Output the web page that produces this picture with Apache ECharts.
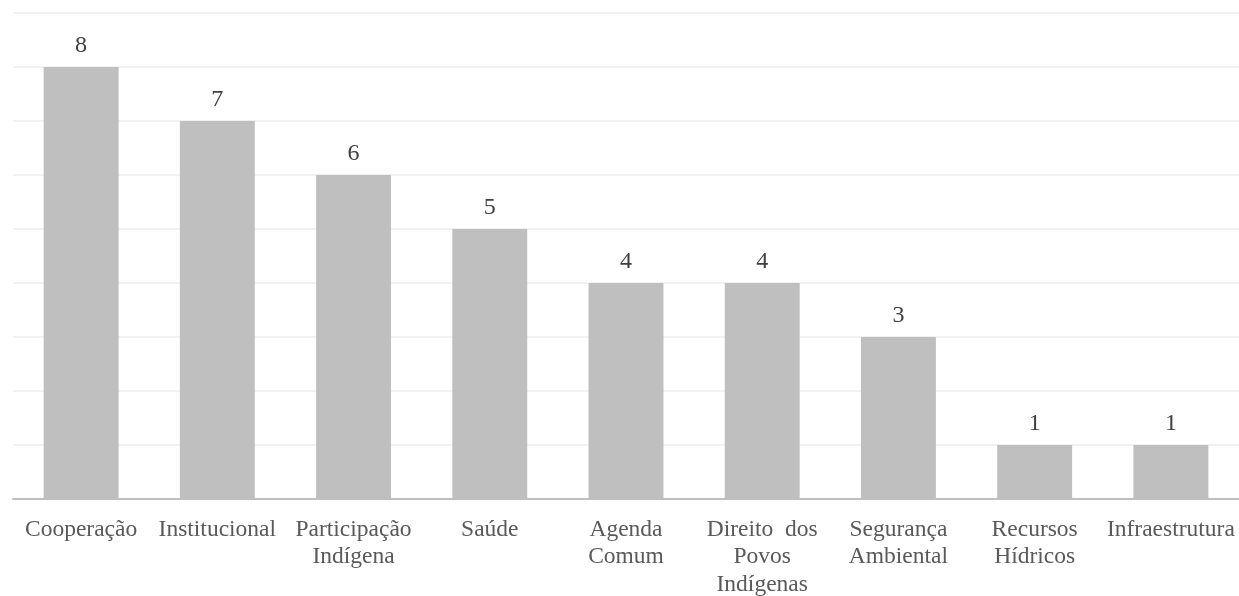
<!DOCTYPE html>
<html>
<head>
<meta charset="utf-8">
<script src="https://cdn.jsdelivr.net/npm/echarts@6/dist/echarts.min.js"></script>
<style>
html,body{margin:0;padding:0;background:#fff;}
#chart{width:1239px;height:596px;}
</style>
</head>
<body>
<div id="chart"></div>
<script>
var categories = ["Cooperação", "Institucional", "Participação\nIndígena", "Saúde", "Agenda\nComum", "Direito  dos\nPovos\nIndígenas", "Segurança\nAmbiental", "Recursos\nHídricos", "Infraestrutura"];
var values = [8, 7, 6, 5, 4, 4, 3, 1, 1];

var FONT = 'Liberation Serif';
var chart = echarts.init(document.getElementById('chart'), null, {renderer: 'canvas'});
chart.setOption({
  animation: false,
  backgroundColor: '#ffffff',
  textStyle: {fontFamily: FONT},
  grid: {left: 13, right: 0, top: 13, bottom: 97, containLabel: false, outerBoundsMode: 'none'},
  xAxis: {
    type: 'category',
    data: categories,
    axisLine: {show: true, lineStyle: {color: '#bfbfbf', width: 2}},
    axisTick: {show: false},
    axisLabel: {
      interval: 0,
      color: '#595959',
      fontSize: 23.5,
      lineHeight: 27.5,
      margin: 17,
      fontFamily: FONT
    }
  },
  yAxis: {
    type: 'value',
    min: 0,
    max: 9,
    interval: 1,
    axisLine: {show: false},
    axisTick: {show: false},
    axisLabel: {show: false},
    splitLine: {show: true, lineStyle: {color: '#ececec', width: 1.5}}
  },
  series: [{
    type: 'bar',
    data: values,
    barCategoryGap: '45%',
    itemStyle: {color: '#bfbfbf'},
    label: {
      show: true,
      position: 'top',
      distance: 9,
      color: '#404040',
      fontSize: 24,
      fontFamily: FONT
    }
  }]
});
</script>
</body>
</html>
